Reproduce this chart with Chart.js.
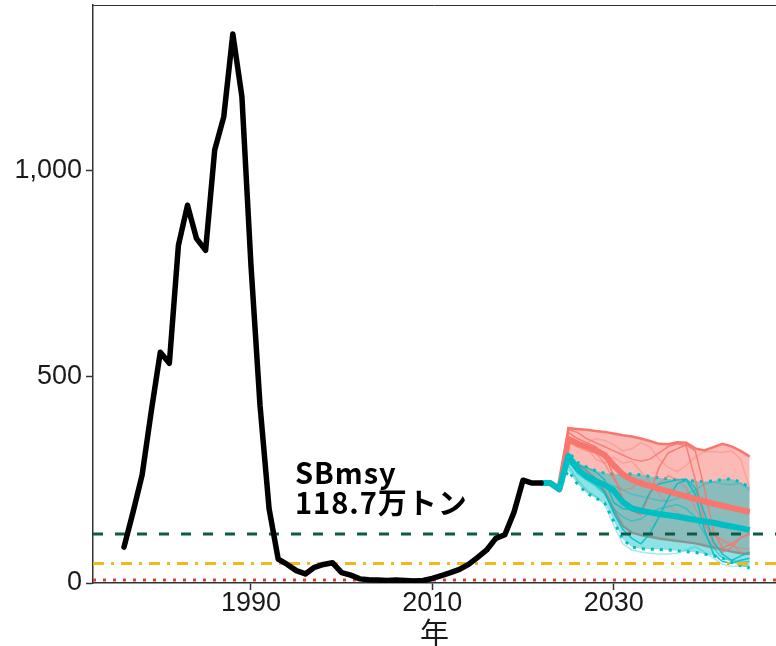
<!DOCTYPE html>
<html>
<head>
<meta charset="utf-8">
<script src="https://cdn.jsdelivr.net/npm/chart.js@4/dist/chart.umd.min.js"></script>
<style>
  html, body { margin: 0; padding: 0; background: #fff; }
  canvas { display: block; }
</style>
</head>
<body>
<canvas id="sb-chart" width="776" height="646"></canvas>
<script>
/* Spawning biomass (万トン): history 1976-2022 and projections to 2045,
   two harvest scenarios with 80% bands, medians and sample runs. */

const histYears = [1976, 1977, 1978, 1979, 1980, 1981, 1982, 1983, 1984, 1985,
                   1986, 1987, 1988, 1989, 1990, 1991, 1992, 1993, 1994, 1995,
                   1996, 1997, 1998, 1999, 2000, 2001, 2002, 2003, 2004, 2005,
                   2006, 2007, 2008, 2009, 2010, 2011, 2012, 2013, 2014, 2015,
                   2016, 2017, 2018, 2019, 2020, 2021, 2022];
const histSB    = [87, 172, 262, 415, 559, 532, 818, 915, 834, 806,
                   1049, 1129, 1330, 1178, 770, 430, 180, 58, 45, 30,
                   22, 38, 45, 49, 25, 19, 10, 8, 7, 6,
                   7, 6, 5, 6, 11, 18, 25, 33, 45, 62,
                   80, 108, 117, 171, 249, 242, 242];

const projYears = [2022, 2023, 2024, 2025, 2026, 2027, 2028, 2029, 2030, 2031, 2032, 2033,
                   2034, 2035, 2036, 2037, 2038, 2039, 2040, 2041, 2042, 2043, 2044, 2045];

// scenario A (red)
const redHi  = [242, 242, 227, 375, 373, 371, 368, 366, 362, 358, 355, 350, 344, 337, 336, 341, 340, 326, 321, 329, 337, 331, 320, 306];
const redMed = [242, 242, 227, 348, 338, 330, 322, 310, 285, 263, 250, 241, 235, 228, 222, 216, 210, 204, 198, 192, 187, 182, 177, 172];
const redLo  = [242, 242, 227, 298, 288, 272, 252, 222, 178, 138, 122, 116, 112, 108, 105, 102, 99, 96, 91, 86, 81, 76, 72, 70];
const redRuns = [
  [242, 242, 227, 365, 350, 340, 330, 310, 260, 205, 175, 165, 215, 280, 315, 325, 335, 320, 230, 125, 85, 95, 110, 120],
  [242, 242, 227, 372, 365, 350, 340, 330, 320, 310, 300, 295, 300, 315, 330, 338, 332, 250, 150, 95, 75, 85, 110, 118],
  [242, 242, 227, 355, 345, 330, 300, 290, 305, 290, 295, 270, 245, 215, 190, 170, 160, 155, 140, 120, 100, 90, 85, 82],
  [242, 242, 227, 340, 330, 340, 350, 345, 335, 320, 325, 340, 330, 300, 280, 270, 285, 305, 318, 318, 316, 320, 300, 230],
  [242, 242, 227, 350, 330, 320, 315, 290, 250, 225, 230, 250, 235, 240, 260, 250, 230, 180, 140, 115, 105, 95, 75, 70]
];
const redRunAlpha = [0.9, 0.85, 0.4, 0.35, 0.6];

// scenario B (teal)
const tealHi  = [242, 242, 227, 318, 292, 281, 272, 266, 264, 264, 264, 262, 258, 255, 252, 250, 248, 247, 246, 247, 251, 252, 244, 232];
const tealMed = [242, 242, 227, 308, 276, 258, 246, 238, 224, 196, 181, 175, 171, 167, 164, 161, 157, 153, 149, 146, 141, 137, 133, 128];
const tealLo  = [242, 242, 227, 272, 240, 218, 206, 194, 150, 106, 87, 83, 82, 81, 80, 78, 76, 74, 70, 66, 60, 50, 42, 36];
const tealRuns = [
  [242, 242, 227, 300, 285, 280, 270, 250, 195, 180, 178, 175, 220, 240, 245, 250, 252, 230, 170, 100, 70, 55, 65, 75],
  [242, 242, 227, 295, 270, 255, 240, 220, 170, 130, 108, 95, 120, 160, 205, 240, 250, 215, 130, 70, 52, 48, 55, 60],
  [242, 242, 227, 290, 275, 265, 255, 240, 235, 225, 215, 210, 205, 200, 198, 205, 215, 225, 240, 245, 240, 238, 242, 225],
  [242, 242, 227, 285, 250, 225, 210, 190, 140, 95, 80, 75, 72, 70, 70, 72, 80, 88, 75, 60, 45, 40, 42, 40],
  [242, 242, 227, 305, 265, 250, 235, 215, 180, 160, 150, 155, 170, 180, 185, 190, 180, 160, 120, 85, 60, 55, 50, 52]
];
const tealRunAlpha = [0.85, 0.9, 0.4, 0.35, 0.55];

// reference points
const sbMsy   = 118.7;
const sbLimit = 47.5;
const sbBan   = 7;

const xRange = [1972.58, 2047.9];
const xTicks = [1990, 2010, 2030];
const yTicks = [0, 500, 1000];
const yTickLabels = ['0', '500', '1,000'];

const RED  = '#F8766D';
const TEAL = '#00BFC4';

const pts = (xs, ys) => xs.map((x, i) => ({ x, y: ys[i] }));
const rgba = (hex, a) => {
  const n = parseInt(hex.slice(1), 16);
  return `rgba(${n >> 16},${(n >> 8) & 255},${n & 255},${a})`;
};

function refLine(value, color, dash, order) {
  return {
    data: [{ x: xRange[0], y: value }, { x: xRange[1], y: value }],
    borderColor: color, borderWidth: 3, borderDash: dash,
    pointRadius: 0, fill: false, order
  };
}

const datasets = [
  // history
  { data: pts(histYears, histSB), borderColor: '#000', borderWidth: 5.5,
    borderJoinStyle: 'round', borderCapStyle: 'round', pointRadius: 0, fill: false, order: 0 },

  refLine(sbMsy,   '#0f5a45', [10, 12], 1),
  refLine(sbLimit, '#f0b818', [11, 7, 3, 7], 2),
  refLine(sbBan,   '#d64535', [3, 7], 3),

  // medians
  { data: pts(projYears, tealMed), borderColor: TEAL, borderWidth: 6,
    borderJoinStyle: 'round', pointRadius: 0, fill: false, order: 4 },
  { data: pts(projYears, redMed), borderColor: RED, borderWidth: 6,
    borderJoinStyle: 'round', pointRadius: 0, fill: false, order: 5 },
];

tealRuns.forEach((run, i) => datasets.push({
  data: pts(projYears, run), borderColor: rgba(TEAL, tealRunAlpha[i]), borderWidth: 1.5,
  pointRadius: 0, fill: false, order: 6
}));
redRuns.forEach((run, i) => datasets.push({
  data: pts(projYears, run), borderColor: rgba(RED, redRunAlpha[i]), borderWidth: 1.5,
  pointRadius: 0, fill: false, order: 7
}));

// bands: upper edge fills down to the next dataset (its lower edge)
datasets.push(
  { data: pts(projYears, tealHi), borderColor: TEAL, borderWidth: 3, borderDash: [3, 6],
    pointRadius: 0, fill: '+1', backgroundColor: rgba(TEAL, 0.45), order: 8 },
  { data: pts(projYears, tealLo), borderColor: TEAL, borderWidth: 3, borderDash: [3, 6],
    pointRadius: 0, fill: false, order: 8 },
  { data: pts(projYears, redHi), borderColor: RED, borderWidth: 2.5,
    pointRadius: 0, fill: '+1', backgroundColor: rgba(RED, 0.5), order: 9 },
  { data: pts(projYears, redLo), borderColor: RED, borderWidth: 2.5,
    pointRadius: 0, fill: false, order: 9 }
);

// frame line along the top of the panel + SBmsy note
const panelExtras = {
  id: 'panelExtras',
  afterDraw(chart) {
    const { ctx, chartArea, scales: { x, y } } = chart;
    ctx.save();
    ctx.strokeStyle = '#333';
    ctx.lineWidth = 1;
    ctx.beginPath();
    ctx.moveTo(chartArea.left, chartArea.top + 0.5);
    ctx.lineTo(chartArea.right, chartArea.top + 0.5);
    ctx.stroke();

    ctx.fillStyle = '#000';
    ctx.font = 'bold 29px "Noto Sans CJK JP", "Noto Sans", sans-serif';
    ctx.letterSpacing = '1px';
    ctx.textAlign = 'left';
    ctx.textBaseline = 'alphabetic';
    const tx = x.getPixelForValue(1994.85);
    const ty = y.getPixelForValue(240);
    ctx.fillText('SBmsy', tx, ty);
    ctx.fillText(sbMsy.toFixed(1) + '万トン', tx, ty + 30);
    ctx.restore();
  }
};

const axisFont = { family: '"Liberation Sans", Arial, sans-serif', size: 27, lineHeight: 1 };

new Chart(document.getElementById('sb-chart'), {
  type: 'line',
  data: { datasets },
  options: {
    responsive: false,
    animation: false,
    layout: { padding: { top: 5, left: 0, right: 0, bottom: 0 } },
    plugins: { legend: { display: false }, tooltip: { enabled: false } },
    scales: {
      x: {
        type: 'linear',
        min: xRange[0], max: xRange[1],
        afterBuildTicks: s => { s.ticks = xTicks.map(v => ({ value: v })); },
        afterFit: s => { s.height = 63; s.paddingLeft = 0; s.paddingRight = 0; },
        ticks: { color: '#1a1a1a', font: axisFont, padding: 0, maxRotation: 0,
                 callback: v => String(v) },
        grid: { drawOnChartArea: false, drawTicks: true, tickLength: 7,
                tickColor: '#333', tickWidth: 1.5 },
        border: { display: true, color: '#333', width: 1.5 },
        title: { display: true, text: '年', color: '#1a1a1a',
                 font: { family: '"Noto Sans CJK JP", sans-serif', size: 29, lineHeight: 0.9 },
                 padding: 0 }
      },
      y: {
        min: 0, max: 1400,
        afterBuildTicks: s => { s.ticks = yTicks.map(v => ({ value: v })); },
        afterFit: s => { s.width = 93; s.paddingTop = 0; s.paddingBottom = 0; },
        ticks: { color: '#1a1a1a', font: axisFont, padding: 4,
                 callback: v => yTickLabels[yTicks.indexOf(v)] },
        grid: { drawOnChartArea: false, drawTicks: true, tickLength: 7,
                tickColor: '#333', tickWidth: 1.5 },
        border: { display: true, color: '#333', width: 1.5 }
      }
    }
  },
  plugins: [panelExtras]
});
</script>
</body>
</html>
